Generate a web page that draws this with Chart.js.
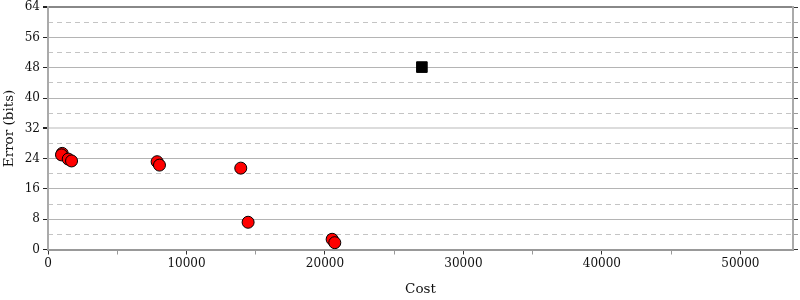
<!DOCTYPE html>
<html>
<head>
<meta charset="utf-8">
<script src="https://cdn.jsdelivr.net/npm/chart.js@4"></script>
<style>
html, body { margin: 0; padding: 0; background: #fff; }
</style>
</head>
<body>
<canvas id="chart" width="800" height="300"></canvas>
<script>
// red points: cost vs error
const costs = [1025, 975, 1460, 1700, 7880, 8050, 13920, 14450, 20520, 20710];
const errors = [25.4, 25.0, 23.9, 23.4, 23.2, 22.3, 21.5, 7.2, 2.7, 1.8];
// black square
const refCosts = [27000];
const refErrors = [48.2];

const xTicks = [0, 5000, 10000, 15000, 20000, 25000, 30000, 35000, 40000, 45000, 50000];
const yMajor = [0, 8, 16, 24, 32, 40, 48, 56, 64];
const yMinor = [4, 12, 20, 28, 36, 44, 52, 60];
const yAll = [0, 4, 8, 12, 16, 20, 24, 28, 32, 36, 40, 44, 48, 52, 56, 60, 64];

const serif = "'DejaVu Serif', serif";
const tickFont = { family: serif, size: 12 };
const titleFont = { family: serif, size: 13.5 };

function setTicks(list) {
    return (scale) => { scale.ticks = list.map(v => ({ value: v })); };
}

new Chart(document.getElementById("chart").getContext("2d"), {
    type: "scatter",
    data: {
        datasets: [
            {
                data: costs.map((c, i) => ({ x: c, y: errors[i] })),
                backgroundColor: "#ff0000",
                borderColor: "#000",
                borderWidth: 1,
                pointRadius: 6,
                pointStyle: "circle",
            },
            {
                data: refCosts.map((c, i) => ({ x: c, y: refErrors[i] })),
                backgroundColor: "#000",
                borderColor: "#000",
                borderWidth: 1,
                pointRadius: 7.5,
                pointStyle: "rect",
            },
        ],
    },
    options: {
        responsive: false,
        animation: false,
        devicePixelRatio: 1,
        layout: { autoPadding: false, padding: { top: 7.3, left: 0, right: 0, bottom: 0 } },
        plugins: { legend: { display: false }, tooltip: { enabled: false } },
        scales: {
            x: {
                type: "linear",
                position: "bottom",
                min: 0,
                max: 53800,
                afterBuildTicks: setTicks(xTicks),
                afterFit: (s) => { s.height = 50.5; s.paddingLeft = 0; s.paddingRight = 0; },
                ticks: {
                    autoSkip: false,
                    maxRotation: 0,
                    padding: 2,
                    color: "#111",
                    font: tickFont,
                    callback: (v) => (v % 10000 === 0 ? String(v) : ""),
                },
                grid: {
                    drawOnChartArea: false,
                    tickLength: 5,
                    tickColor: (ctx) => (ctx.tick && ctx.tick.value % 10000 === 0 ? "#333" : "#999"),
                },
                border: { color: "#999", width: 2 },
                title: { display: true, text: "Cost", color: "#111", font: titleFont, padding: { top: 0, bottom: 2 } },
            },
            y: {
                position: "left",
                min: 0,
                max: 64,
                afterBuildTicks: setTicks(yMajor),
                afterFit: (s) => { s.width = 48; s.paddingTop = 0; s.paddingBottom = 0; },
                ticks: { padding: 3, color: "#111", font: tickFont },
                grid: {
                    color: (ctx) => {
                        const v = ctx.tick ? ctx.tick.value : -1;
                        if (v === 64) return "#888";
                        if (v === 32) return "#dcdcdc";
                        if (v === 0) return "rgba(0,0,0,0)";
                        return "#b4b4b4";
                    },
                    lineWidth: (ctx) => (ctx.tick && (ctx.tick.value === 64 || ctx.tick.value === 32) ? 2 : 1),
                    tickColor: "#222",
                    tickLength: 5,
                },
                border: { color: "#aaa", width: 2 },
                title: { display: true, text: "Error (bits)", color: "#111", font: titleFont, padding: { top: 1, bottom: 0 } },
            },
            yMinor: {
                position: "left",
                min: 0,
                max: 64,
                afterBuildTicks: setTicks(yMinor),
                afterFit: (s) => { s.width = 0; s.paddingTop = 0; s.paddingBottom = 0; },
                ticks: { display: false },
                grid: { color: "#c4c4c4", lineWidth: 1, tickLength: 4, tickColor: "#888" },
                border: { display: false, dash: [5, 4] },
            },
            yRight: {
                position: "right",
                min: 0,
                max: 64,
                afterBuildTicks: setTicks(yAll),
                afterFit: (s) => { s.width = 7; s.paddingTop = 0; s.paddingBottom = 0; },
                ticks: { display: false },
                grid: {
                    drawOnChartArea: false,
                    tickLength: 5,
                    tickColor: (ctx) => (ctx.tick && ctx.tick.value % 8 === 0 ? "#333" : "#999"),
                },
                border: { color: "#aaa", width: 2 },
            },
        },
    },
});
</script>
</body>
</html>
